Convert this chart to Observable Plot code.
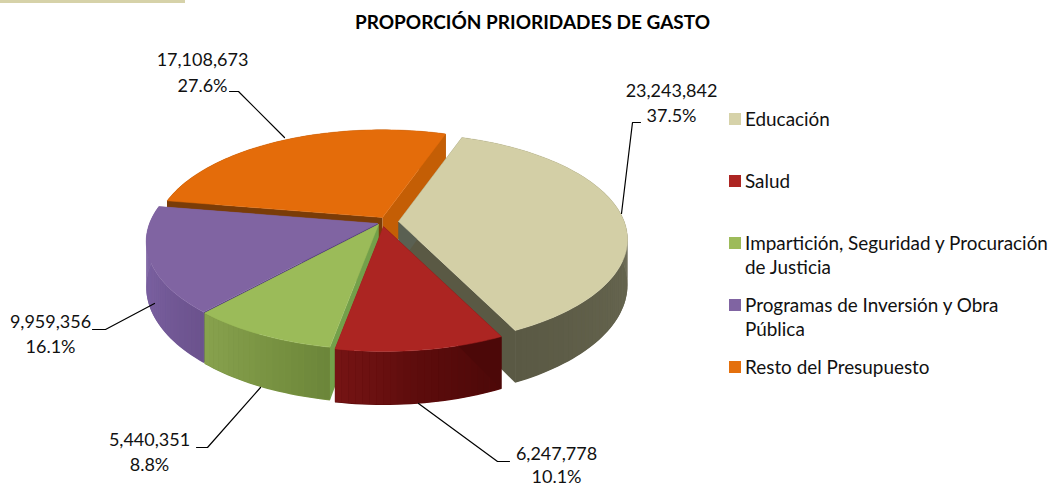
<!DOCTYPE html>
<html lang="es">
<head>
<meta charset="utf-8">
<script src="https://cdn.jsdelivr.net/npm/d3@7"></script>
<script src="https://cdn.jsdelivr.net/npm/@observablehq/plot@0.6"></script>
<style>
html,body{margin:0;padding:0;background:#fff;overflow:hidden}
svg{display:block}
</style>
</head>
<body>
<div id="chart"></div>
<script>
// --- data ---
const title = "PROPORCIÓN PRIORIDADES DE GASTO";
const categories = ["Educación", "Salud", "Impartición, Seguridad y Procuración de Justicia", "Programas de Inversión y Obra Pública", "Resto del Presupuesto"];
const values = [23243842, 6247778, 5440351, 9959356, 17108673];
const legendLines = [["Educación"], ["Salud"], ["Impartición, Seguridad y Procuración", "de Justicia"], ["Programas de Inversión y Obra", "Pública"], ["Resto del Presupuesto"]];

// --- styles ---
const topColors = ["#D3CFA6", "#AC2522", "#9BBB59", "#8064A2", "#E46C0A"];
const legendColors = ["#D6D2A9", "#AD2522", "#9DBB5A", "#8064A2", "#E4700D"];
const wallStops = [
  [[19, 90, 154], ["#5B5B47", "#6B6A54", "#5A5944"]],
  [[154, 172, 190], ["#4C0808", "#5C0C0C", "#761414"]],
  [[190, 205, 222], ["#6B8539", "#7A9443", "#88A24E"]],
  [[222, 250, 280], ["#6B528D", "#7A60A0", "#7E63A2"]],
  [[280, 300, 379], ["#7A3C08", "#7A3C08", "#C05E08"]]
];
const wallBase = ["#5F5E49", "#5C0C0C", "#7A9443", "#745A98", "#7A3C08"];
const startFace = ["#5A6052", "#4C0808", "#73A04A", "#4F3A7A", "#7A3C08"];
const endFace = ["#5A5944", "#761414", "#88A24E", "#7E63A2", "#C45E05"];

// --- layout ---
const W = 1050, H = 487;
const startAngle = 19;                   // degrees clockwise from back of the pie
const R = 228, ry = 104, k = 0.168, depth = 44.5;
const apexes = [[398, 221], [383, 226], [378, 224], [377, 223], [382, 217]];
const radiusScale = [0.99, 1, 1, 1, 0.985];
const paintOrder = [4, 0, 3, 2, 1];
const leaders = [
  [[640, 122], [632, 122], [621, 213]],
  [[509, 461], [497, 461], [418, 403]],
  [[196, 447], [207, 447], [260, 387]],
  [[92, 329], [105, 329], [154, 303]],
  [[229, 91], [238, 91], [284, 137]]
];
const labelPos = [[671, 91, 116], [556, 454, 477], [149, 440, 465], [50, 322, 347], [202, 60, 86]];
const legendX = 729, legendTextX = 744.5, swatch = 12;
const legendY = [119, 181, 243, 305, 367];
const lineGap = 24.5;

// --- geometry from the values ---
const total = d3.sum(values);
let acc = startAngle;
const slices = values.map((v, i) => {
  const a0 = acc, a1 = acc + v / total * 360;
  acc = a1;
  return {i, v, a0, a1, ax: apexes[i][0], ay: apexes[i][1], rs: radiusScale[i]};
});
const rad = d => d * Math.PI / 180;
function proj(s, deg, drop) {
  const X = Math.sin(rad(deg)), Y = -Math.cos(rad(deg));
  const sc = 1 / (1 - k * Y);
  return [s.ax + s.rs * R * X * sc, s.ay + s.rs * ry * Y * sc + drop * sc];
}
const polys = [];
let pid = 0;
function addPoly(pts, color, stroke) {
  const id = pid++;
  [...pts, pts[0]].forEach(p => polys.push({id, x: p[0], y: p[1], color, stroke: stroke || "none"}));
}
for (const i of paintOrder) {
  const s = slices[i];
  const apexT = [s.ax, s.ay], apexB = [s.ax, s.ay + depth];
  const n = Math.ceil((s.a1 - s.a0) / 1.5), step = (s.a1 - s.a0) / n;
  const angles = d3.range(n + 1).map(j => s.a0 + j * step);
  const endFacePoly = () => addPoly([apexT, proj(s, s.a1, 0), proj(s, s.a1, depth), apexB], endFace[i]);
  const endIsBehindWall = s.a1 <= 360;   // only a slice closing past the back of the pie shows this face over its wall
  if (endIsBehindWall) endFacePoly();
  // outer wall: one smooth base shape, with the shading laid over it in strips
  addPoly([...angles.map(a => proj(s, a, 0)), ...angles.slice().reverse().map(a => proj(s, a, depth))], wallBase[i]);
  const shade = d3.scaleLinear().domain(wallStops[i][0]).range(wallStops[i][1]).interpolate(d3.interpolateRgb).clamp(true);
  for (let j = 0; j < n; j++) {
    addPoly([proj(s, angles[j], 0.5), proj(s, angles[j + 1], 0.5), proj(s, angles[j + 1], depth - 0.5), proj(s, angles[j], depth - 0.5)], shade((angles[j] + angles[j + 1]) / 2));
  }
  // radial faces
  addPoly([apexT, proj(s, s.a0, 0), proj(s, s.a0, depth), apexB], startFace[i]);
  if (!endIsBehindWall) endFacePoly();
  // top
  addPoly([apexT, ...angles.map(a => proj(s, a, 0))], topColors[i], topColors[i]);
}

const fmtN = d3.format(",");
const fmtP = d3.format(".1%");
const labelRows = slices.flatMap(s => [
  {x: labelPos[s.i][0], y: labelPos[s.i][1], t: fmtN(s.v)},
  {x: labelPos[s.i][0], y: labelPos[s.i][2], t: fmtP(s.v / total)}
]);
const leaderRows = leaders.flatMap((l, i) => l.map(p => ({id: i, x: p[0], y: p[1]})));
const swatches = legendY.map((y, i) => ({x1: legendX, x2: legendX + swatch, y1: y - swatch / 2, y2: y + swatch / 2, color: legendColors[i], cat: categories[i]}));
const legendRows = legendLines.flatMap((ls, i) => ls.map((t, j) => ({x: legendTextX, y: legendY[i] + j * lineGap, t})));

const font = "Lato, sans-serif";
const chart = Plot.plot({
  width: W, height: H,
  margin: 0,
  style: {background: "#fff", fontFamily: font},
  x: {domain: [0, W], range: [0, W], axis: null},
  y: {domain: [0, H], range: [0, H], axis: null},
  color: {type: "identity"},
  marks: [
    Plot.rect([{x1: 0, x2: 185, y1: 0, y2: 3}], {x1: "x1", x2: "x2", y1: "y1", y2: "y2", fill: "#D6D2A9"}),
    Plot.line(polys, {x: "x", y: "y", z: "id", fill: "color", stroke: "stroke", strokeWidth: 0.5, curve: "linear"}),
    Plot.line(leaderRows, {x: "x", y: "y", z: "id", stroke: "#000", strokeWidth: 1.2, curve: "linear"}),
    Plot.text(labelRows, {x: "x", y: "y", text: "t", fontSize: 18, fill: "#111", textAnchor: "middle", lineAnchor: "middle", fontFamily: font}),
    Plot.rect(swatches, {x1: "x1", x2: "x2", y1: "y1", y2: "y2", fill: "color"}),
    Plot.text(legendRows, {x: "x", y: "y", text: "t", fontSize: 18.9, fill: "#111", textAnchor: "start", lineAnchor: "middle", fontFamily: font}),
    Plot.text([{x: 532, y: 22, t: title}], {x: "x", y: "y", text: "t", fontSize: 19, fontWeight: "bold", fill: "#000", textAnchor: "middle", lineAnchor: "middle", fontFamily: font})
  ]
});
document.getElementById("chart").appendChild(chart);
</script>
</body>
</html>
